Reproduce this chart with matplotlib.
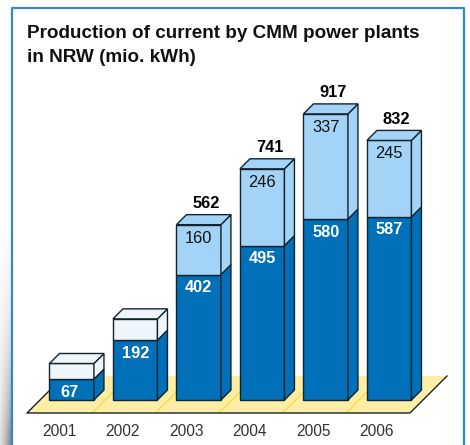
import numpy as np
import matplotlib
matplotlib.use("Agg")
import matplotlib.pyplot as plt
from matplotlib.patches import Polygon

plt.rcParams['font.family'] = ['Liberation Sans', 'DejaVu Sans']

# values in mio. kWh
years = ["2001", "2002", "2003", "2004", "2005", "2006"]
lower = [67, 192, 402, 495, 580, 587]
upper = [50, 68, 160, 246, 337, 245]
upper_labels = ["", "", "160", "246", "337", "245"]
total_labels = ["", "", "562", "741", "917", "832"]

DARK = "#0070b8"
LIGHT = "#a3d4f7"
PALE = "#eef5fc"
FLOOR = "#fdeda5"
EDGE = "#14232e"

W, H = 470, 445
step = 63.5      # px between bars
sy = 0.312       # px per mio. kWh
x0_px, y0_px = 71.7, 400

fig = plt.figure(figsize=(W / 100, H / 100), dpi=100)
ax = fig.add_axes([0, 0, 1, 1])

def dx(px):
    return px / step

def dy(px):
    return px / sy

def P(xp, yp):
    # picture pixel to data coords
    return ((xp - x0_px) / step, (y0_px - yp) / sy)

# shadow left of the frame
shade = np.linspace(0, 1, 64).reshape(-1, 1) ** 1.5 * np.linspace(0.35, 1, 64)[None, :]
ax.imshow(shade, cmap="Greys", vmin=0, vmax=1.7, aspect="auto", zorder=0,
          extent=[P(0, 0)[0], P(12, 0)[0], P(0, 445)[1], P(0, 200)[1]])
ax.set_xlim(-x0_px / step, (W - x0_px) / step)
ax.set_ylim(-(H - y0_px) / sy, y0_px / sy)
ax.axis("off")

# frame
fx = [P(12, 445), P(12, 8), P(464, 8), P(464, 445)]
ax.plot([p[0] for p in fx], [p[1] for p in fx], color="#2e8bc8", lw=1.6, zorder=1)

# floor
ax.add_patch(Polygon([P(27, 413), P(64, 376), P(447, 376), P(410, 413)],
                     closed=True, fc=FLOOR, ec="none", zorder=2))
for i in range(5):
    a = P(92 + step * i, 413)
    b = P(129 + step * i, 376)
    ax.plot([a[0], b[0]], [a[1], b[1]], color="#f6dc3c", lw=0.9, zorder=2.1)
edge = [P(64, 376), P(27, 413), P(410, 413), P(447, 376)]
ax.plot([p[0] for p in edge], [p[1] for p in edge], color=EDGE, lw=1.0, zorder=2.2)

bw = 44.5 / step
ddx, ddy = dx(10), dy(10)

for i, yr in enumerate(years):
    lo, up = lower[i], upper[i]
    top = lo + up
    upper_col = LIGHT if upper_labels[i] else PALE
    xl, xr = i - bw / 2, i + bw / 2
    z = 3 + i
    ax.bar(i, lo, width=bw, color=DARK, edgecolor=EDGE, lw=1.0, zorder=z)
    ax.bar(i, up, bottom=lo, width=bw, color=upper_col, edgecolor=EDGE, lw=1.0, zorder=z)
    # right side
    ax.add_patch(Polygon([(xr, 0), (xr + ddx, ddy), (xr + ddx, lo + ddy), (xr, lo)],
                         fc=DARK, ec=EDGE, lw=1.0, zorder=z))
    ax.add_patch(Polygon([(xr, lo), (xr + ddx, lo + ddy), (xr + ddx, top + ddy), (xr, top)],
                         fc=upper_col, ec=EDGE, lw=1.0, zorder=z))
    # top
    ax.add_patch(Polygon([(xl, top), (xl + ddx, top + ddy), (xr + ddx, top + ddy), (xr, top)],
                         fc=upper_col, ec=EDGE, lw=1.0, zorder=z))
    ax.text(i - dx(2 if i == 0 else 0), lo - dy(13), str(lo), color="white", fontsize=11.8,
            fontweight="bold", ha="center", va="center", zorder=20)
    if upper_labels[i]:
        ax.text(i, top - dy(13.5), upper_labels[i], color="#111111", fontsize=11.8,
                ha="center", va="center", zorder=20)
        ax.text(i + dx(7.5), top + dy(21), total_labels[i], color="black", fontsize=11.8,
                fontweight="bold", ha="center", va="center", zorder=20)
    ax.text(i - dx(12.5), P(0, 431)[1], yr, color="#333333", fontsize=11.2,
            ha="center", va="center", zorder=20)

tx, ty = P(27, 34)
ax.text(tx, ty, "Production of current by CMM power plants", fontsize=13.6, fontweight="bold",
        color="#111111", ha="left", va="center", zorder=20)
tx, ty = P(27, 57)
ax.text(tx, ty, "in NRW (mio. kWh)", fontsize=13.6, fontweight="bold",
        color="#111111", ha="left", va="center", zorder=20)

fig.savefig("out.png", dpi=100)
